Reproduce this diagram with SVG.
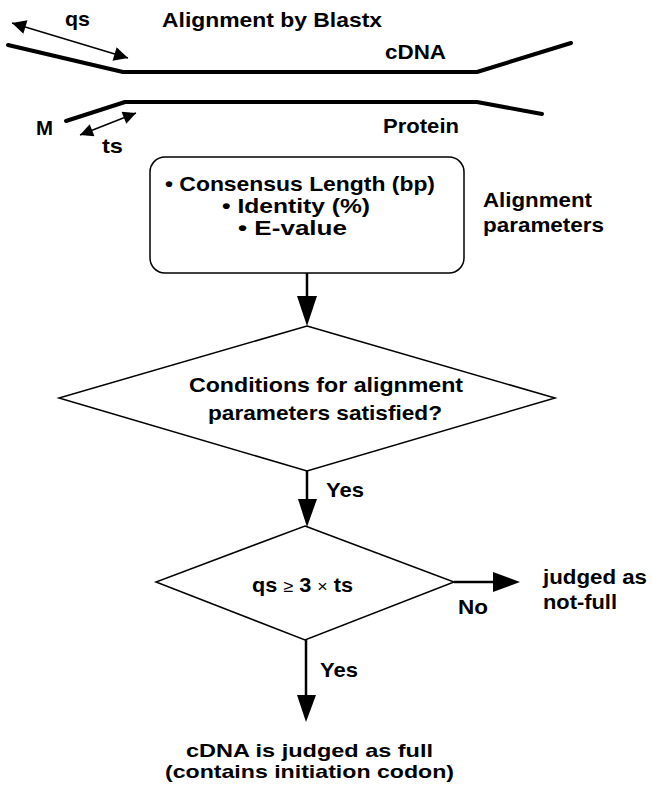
<svg xmlns="http://www.w3.org/2000/svg" width="652" height="792" viewBox="0 0 652 792">
<style>
text{font-family:"Liberation Sans",Arial,sans-serif;font-weight:bold;font-size:20.5px;fill:#000}
.sm{font-size:18.5px}
.seq{fill:none;stroke:#000;stroke-width:4;stroke-linecap:round;stroke-linejoin:round}
.dim{fill:none;stroke:#000;stroke-width:1.4}
.shape{fill:#fff;stroke:#000;stroke-width:1.5}
.conn{fill:none;stroke:#000;stroke-width:2.5}
</style>
<defs>
<marker id="dh" viewBox="0 0 10 10" refX="10" refY="5" markerWidth="15" markerHeight="13" markerUnits="userSpaceOnUse" orient="auto-start-reverse">
<path d="M0,0 L10,5 L0,10 z" fill="#000"/>
</marker>
<marker id="dh2" viewBox="0 0 10 10" refX="10" refY="5" markerWidth="18" markerHeight="14" markerUnits="userSpaceOnUse" orient="auto-start-reverse">
<path d="M0,0 L10,5 L0,10 z" fill="#000"/>
</marker>
</defs>
<g id="alignment">
<text x="162" y="27" textLength="220" lengthAdjust="spacingAndGlyphs">Alignment by Blastx</text>
<polyline class="seq" points="8,45 123,72 477,72 571,43"/>
<polyline class="seq" points="66,121 125,102 477,102 542,114"/>
<line class="dim" x1="12" y1="23" x2="128" y2="58" marker-start="url(#dh2)" marker-end="url(#dh2)"/>
<line class="dim" x1="80" y1="135" x2="136" y2="113" marker-start="url(#dh)" marker-end="url(#dh)"/>
<text x="65" y="26" textLength="25" lengthAdjust="spacingAndGlyphs">qs</text>
<text x="385" y="59" textLength="61" lengthAdjust="spacingAndGlyphs">cDNA</text>
<text x="383" y="133" textLength="76" lengthAdjust="spacingAndGlyphs">Protein</text>
<text x="36" y="135" textLength="17" lengthAdjust="spacingAndGlyphs">M</text>
<text x="102" y="153" textLength="21" lengthAdjust="spacingAndGlyphs">ts</text>
</g>
<g id="params">
<rect class="shape" x="150" y="157" width="314" height="116" rx="15" ry="15"/>
<text x="165" y="191" textLength="270" lengthAdjust="spacingAndGlyphs">• Consensus Length (bp)</text>
<text x="222" y="213" textLength="148" lengthAdjust="spacingAndGlyphs">• Identity (%)</text>
<text x="238" y="235" textLength="109" lengthAdjust="spacingAndGlyphs">• E-value</text>
</g>
<g id="params-label">
<text x="483" y="207" textLength="109" lengthAdjust="spacingAndGlyphs">Alignment</text>
<text x="483" y="232" textLength="121" lengthAdjust="spacingAndGlyphs">parameters</text>
</g>
<g id="cond1">
<polygon class="shape" points="307,326 555,398 307,471 59,398"/>
<text x="189" y="392" textLength="274" lengthAdjust="spacingAndGlyphs">Conditions for alignment</text>
<text x="208" y="420" textLength="234" lengthAdjust="spacingAndGlyphs">parameters satisfied?</text>
</g>
<g id="cond2">
<polygon class="shape" points="305,526 454,582 305,640 156,582"/>
<text x="252" y="592" textLength="101" lengthAdjust="spacingAndGlyphs">qs <tspan font-weight="normal" font-size="17">≥</tspan> 3 <tspan font-weight="normal" font-size="17">×</tspan> ts</text>
</g>
<g id="notfull">
<text x="543" y="584" textLength="104" lengthAdjust="spacingAndGlyphs">judged as</text>
<text x="543" y="609" textLength="74" lengthAdjust="spacingAndGlyphs">not-full</text>
</g>
<g id="full">
<text class="sm" x="186" y="757" textLength="247" lengthAdjust="spacingAndGlyphs">cDNA is judged as full</text>
<text class="sm" x="165" y="778" textLength="289" lengthAdjust="spacingAndGlyphs">(contains initiation codon)</text>
</g>
<g id="connectors">
<line class="conn" x1="307" y1="273" x2="307" y2="300"/>
<path d="M297,296 L317,296 L307,326 z" fill="#000"/>
<line class="conn" x1="307" y1="471" x2="307" y2="502"/>
<path d="M298,499 L317,499 L307,527 z" fill="#000"/>
<text x="326" y="497" textLength="38" lengthAdjust="spacingAndGlyphs">Yes</text>
<line class="conn" x1="454" y1="582" x2="496" y2="582"/>
<path d="M493,572 L520,582 L493,592 z" fill="#000"/>
<text x="458" y="614" textLength="30" lengthAdjust="spacingAndGlyphs">No</text>
<line class="conn" x1="306" y1="640" x2="306" y2="698"/>
<path d="M297,695 L316,695 L306,722 z" fill="#000"/>
<text x="320" y="677" textLength="38" lengthAdjust="spacingAndGlyphs">Yes</text>
</g>
</svg>
